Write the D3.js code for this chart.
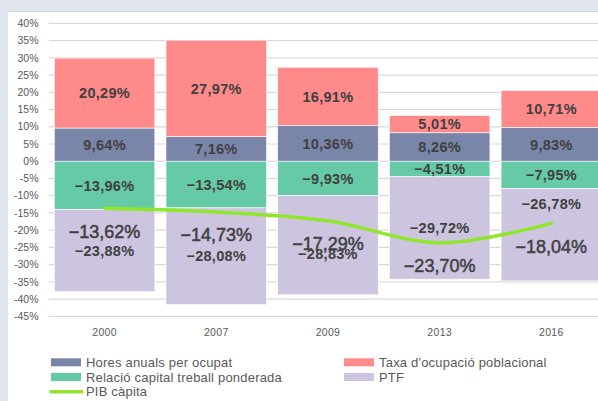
<html>
<head>
  <style>
    body { margin: 0; background-color: #e1e5ed; }
    svg { display: block; }
  </style>
</head>
<body>
<div id="mydiv"></div>
<script src="https://d3js.org/d3.v7.min.js"></script>
<script>

// Data
let years = ["2000", "2007", "2009", "2013", "2016"];
let hores = [9.64, 7.16, 10.36, 8.26, 9.83];
let taxa = [20.29, 27.97, 16.91, 5.01, 10.71];
let relacio = [-13.96, -13.54, -9.93, -4.51, -7.95];
let ptf = [-23.88, -28.08, -28.83, -29.72, -26.78];
let pib = [-13.62, -14.73, -17.29, -23.70, -18.04];
let yTicks = [40, 35, 30, 25, 20, 15, 10, 5, 0, -5, -10, -15, -20, -25, -30, -35, -40, -45];
let seriesNames = ["Hores anuals per ocupat", "Taxa d'ocupació poblacional", "Relació capital treball ponderada", "PTF", "PIB càpita"];

// layout: hand nudges of the PTF labels (px), as placed in the original
let ptfNudge = [0, 0, 9, 0, -31];

let width = 598, height = 401;
let colors = {
  hores: "#7a86a9",
  taxa: "#ff8a8a",
  relacio: "#66caa6",
  ptf: "#cdc4df",
  pib: "#8fe62d"
};

let svg = d3.select("#mydiv")
  .append("svg")
  .attr("width", width)
  .attr("height", height);

// white panel
svg.append("rect")
  .attr("x", 8).attr("y", 11)
  .attr("width", width).attr("height", height)
  .attr("fill", "#fff");
svg.append("line")
  .attr("x1", 8).attr("x2", width)
  .attr("y1", 11.5).attr("y2", 11.5)
  .attr("stroke", "#d4d8e0");

let x = d3.scaleBand()
  .domain(years)
  .range([48.7, 607.2])
  .paddingInner(0.1)
  .paddingOuter(0.05);

let y = d3.scaleLinear()
  .domain([-45, 40])
  .range([316.3, 23.4]);

let fmt = v => d3.format(".2f")(v).replace(".", ",") + "%";

// gridlines
svg.append("g")
  .selectAll("line")
  .data(yTicks)
  .enter()
  .append("line")
  .attr("x1", 48.7).attr("x2", width)
  .attr("y1", d => y(d)).attr("y2", d => y(d))
  .attr("stroke", "#d9d9d9")
  .attr("stroke-width", 1.2);

// y labels
svg.append("g")
  .selectAll("text")
  .data(yTicks)
  .enter()
  .append("text")
  .attr("x", 38.5)
  .attr("y", d => y(d))
  .attr("dy", "0.35em")
  .attr("text-anchor", "end")
  .attr("fill", "#595959")
  .style("font-family", "Liberation Sans, Arial, sans-serif")
  .style("font-size", "10.5px")
  .text(d => d + "%");

// x labels
svg.append("g")
  .selectAll("text")
  .data(years)
  .enter()
  .append("text")
  .attr("x", d => x(d) + x.bandwidth() / 2)
  .attr("y", 332)
  .attr("dy", "0.35em")
  .attr("text-anchor", "middle")
  .attr("fill", "#595959")
  .style("font-family", "Liberation Sans, Arial, sans-serif")
  .style("font-size", "10.5px")
  .style("letter-spacing", "0.3px")
  .text(d => d);

// stacked bars
let table = years.map((yr, i) => ({
  year: yr, hores: hores[i], taxa: taxa[i], relacio: relacio[i], ptf: ptf[i]
}));
let keys = ["hores", "taxa", "relacio", "ptf"];
let stacked = d3.stack()
  .keys(keys)
  .offset(d3.stackOffsetDiverging)(table);

let layers = svg.append("g")
  .selectAll("g")
  .data(stacked)
  .enter()
  .append("g")
  .attr("fill", d => colors[d.key]);

layers.selectAll("rect")
  .data(d => d)
  .enter()
  .append("rect")
  .attr("x", d => x(d.data.year))
  .attr("width", x.bandwidth())
  .attr("y", d => y(Math.max(d[0], d[1])))
  .attr("height", d => Math.abs(y(d[0]) - y(d[1])))
  .attr("stroke", "#fff")
  .attr("stroke-width", 0.6);

// segment labels
layers.selectAll("text")
  .data((d, k) => d.map((p, i) => ({ p: p, key: d.key, i: i })))
  .enter()
  .append("text")
  .attr("x", d => x(d.p.data.year) + x.bandwidth() / 2)
  .attr("y", d => y((d.p[0] + d.p[1]) / 2) + (d.key == "ptf" ? ptfNudge[d.i] : 0))
  .attr("dy", "0.36em")
  .attr("text-anchor", "middle")
  .attr("fill", "#404040")
  .style("font-family", "Liberation Sans, Arial, sans-serif")
  .style("font-size", "14.5px")
  .style("font-weight", "bold")
  .style("letter-spacing", "0.3px")
  .text(d => fmt(d.p.data[d.key]));

// PIB line
let line = d3.line()
  .x((d, i) => x(years[i]) + x.bandwidth() / 2)
  .y(d => y(d))
  .curve(d3.curveCatmullRom.alpha(0.5));

svg.append("path")
  .datum(pib)
  .attr("d", line)
  .attr("fill", "none")
  .attr("stroke", colors.pib)
  .attr("stroke-width", 3.5)
  .attr("stroke-linecap", "round");

svg.append("g")
  .selectAll("text")
  .data(pib)
  .enter()
  .append("text")
  .attr("x", (d, i) => x(years[i]) + x.bandwidth() / 2)
  .attr("y", d => y(d) + 23)
  .attr("dy", "0.36em")
  .attr("text-anchor", "middle")
  .attr("fill", "#404040")
  .attr("stroke", "#404040")
  .attr("stroke-width", 0.5)
  .style("font-family", "Liberation Sans, Arial, sans-serif")
  .style("font-size", "18px")
  .text(d => fmt(d));

// legend
let legendItems = [
  { name: seriesNames[0], color: colors.hores, x: 51, y: 362.3, type: "rect" },
  { name: seriesNames[1], color: colors.taxa, x: 344, y: 362.3, type: "rect" },
  { name: seriesNames[2], color: colors.relacio, x: 51, y: 377, type: "rect" },
  { name: seriesNames[3], color: colors.ptf, x: 344, y: 377, type: "rect" },
  { name: seriesNames[4], color: colors.pib, x: 51, y: 391.7, type: "line" }
];

let leg = svg.append("g")
  .selectAll("g")
  .data(legendItems)
  .enter()
  .append("g")
  .attr("transform", d => "translate(" + d.x + "," + d.y + ")");

leg.filter(d => d.type == "rect")
  .append("rect")
  .attr("x", 0).attr("y", -4)
  .attr("width", 30).attr("height", 8)
  .attr("fill", d => d.color);

leg.filter(d => d.type == "line")
  .append("line")
  .attr("x1", 0).attr("x2", 31)
  .attr("y1", 0).attr("y2", 0)
  .attr("stroke", d => d.color)
  .attr("stroke-width", 3.5)
  .attr("stroke-linecap", "round");

leg.append("text")
  .attr("x", 35)
  .attr("y", 0)
  .attr("dy", "0.36em")
  .attr("fill", "#595959")
  .style("font-family", "Liberation Sans, Arial, sans-serif")
  .style("font-size", "13px")
  .style("letter-spacing", "0.2px")
  .text(d => d.name);

</script>
</body>
</html>
